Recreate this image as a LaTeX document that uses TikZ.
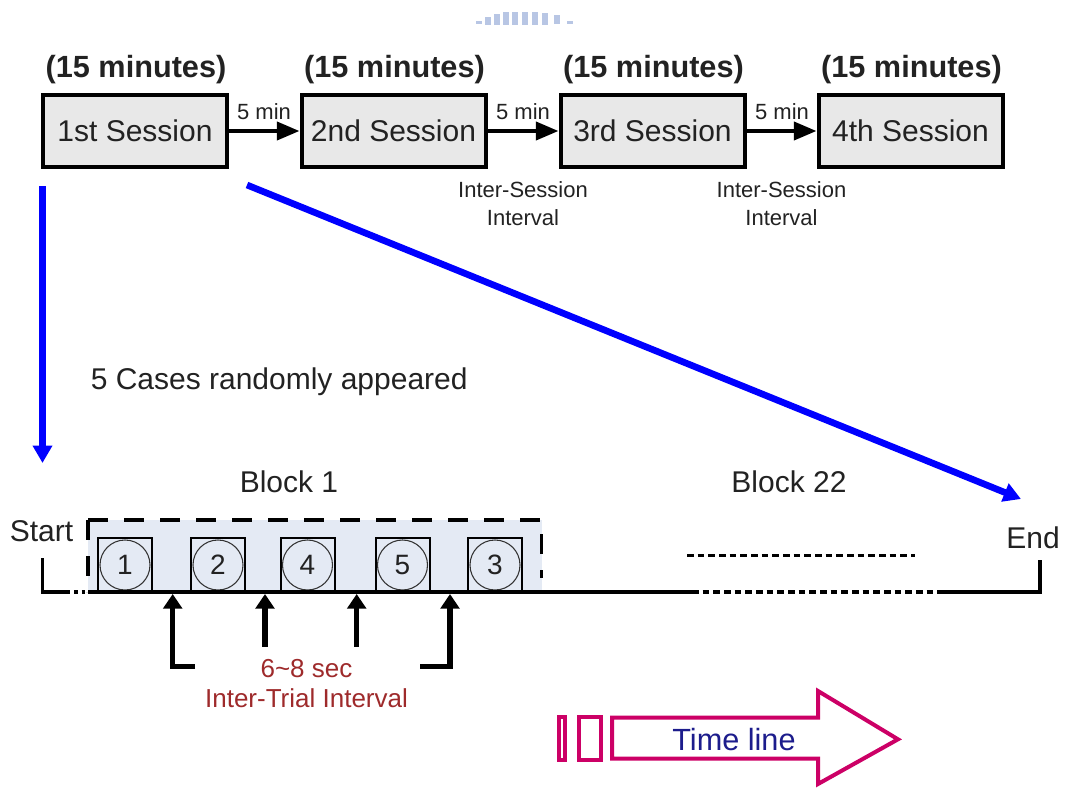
\documentclass[tikz,border=0pt]{standalone}
\usepackage{fontspec}
\setmainfont{Liberation Sans}
\usetikzlibrary{arrows.meta,calc}
\definecolor{sessfill}{HTML}{E8E8E8}
\definecolor{txt}{HTML}{222222}
\definecolor{blockfill}{HTML}{E4EAF4}
\definecolor{itired}{HTML}{9E2A2B}
\definecolor{tlmag}{HTML}{CC0066}
\definecolor{tlnavy}{HTML}{1C1C8C}
\definecolor{wmblue}{HTML}{B8C6E4}
\begin{document}
\begin{tikzpicture}[x=0.75pt,y=-0.75pt,
  session/.style={draw=black, line width=3pt, fill=sessfill, minimum width=138pt,
    minimum height=54pt, inner sep=0pt, text=txt, font=\fontsize{22.5}{27}\selectfont},
  duration/.style={anchor=base, text=txt, inner sep=0pt,
    font=\fontsize{23}{27}\selectfont\bfseries},
  gaplabel/.style={anchor=base, text=txt, inner sep=0pt, font=\fontsize{16.5}{20}\selectfont},
  bigtext/.style={anchor=base, text=txt, inner sep=0pt, font=\fontsize{22.5}{27}\selectfont},
  itilabel/.style={anchor=base, text=itired, inner sep=0pt, font=\fontsize{19.5}{23}\selectfont},
  sessarrow/.style={line width=3pt, -{Triangle[length=17pt,width=13.5pt]}},
  flowarrow/.style={draw=blue, line width=5pt, -{Triangle[length=13pt,width=14pt]}},
  trialbox/.style={draw=black, line width=1.5pt, fill=blockfill, minimum size=40.5pt, inner sep=0pt},
  trialcirc/.style={draw=black!80, line width=0.8pt, circle, minimum size=37.5pt, inner sep=0pt,
    text=txt, font=\fontsize{21}{25}\selectfont},
  itiarrow/.style={line width=4pt, line join=miter, -{Triangle[length=11pt,width=14pt]}},
  axis/.style={line width=2.6pt},
  axisgap/.style={line width=2.6pt, dash pattern=on 5pt off 3pt},
  blockedge/.style={line width=2.6pt, dash pattern=on 15pt off 12pt},
  tlshape/.style={draw=tlmag, line width=3pt, fill=white, line join=miter}
]
\useasboundingbox (0,0) rectangle (1065,789);

% faint ring of ticks along the top edge
\foreach \xa/\ya/\yb in {479/21/24, 488/17/25, 497/14/25, 506/12/25, 515/12/25,
                         525/12/25, 535/12/25, 545/13/25, 557/15/24, 570/21/24}
  \fill[wmblue] (\xa-3,\ya) rectangle (\xa+3,\yb);

% ---- sessions ----
\node[session] (s1) at (135,131)   {1st Session};
\node[session] (s2) at (393.5,131) {2nd Session};
\node[session] (s3) at (652.5,131) {3rd Session};
\node[session] (s4) at (910.5,131) {4th Session};

\node[duration] (d1) at (136,77)   {(15 minutes)};
\node[duration] (d2) at (394.5,77) {(15 minutes)};
\node[duration] (d3) at (653.5,77) {(15 minutes)};
\node[duration] (d4) at (911.5,77) {(15 minutes)};

\draw[sessarrow] (s1.east) -- (s2.west);
\draw[sessarrow] (s2.east) -- (s3.west);
\draw[sessarrow] (s3.east) -- (s4.west);

\node[gaplabel] (g1) at (264,119) {5 min};
\node[gaplabel] (g2) at (523,119) {5 min};
\node[gaplabel] (g3) at (782,119) {5 min};

\node[gaplabel] (isi1a) at (523,197) {Inter-Session};
\node[gaplabel] (isi1b) at (523,225) {Interval};
\node[gaplabel] (isi2a) at (781.5,197) {Inter-Session};
\node[gaplabel] (isi2b) at (781.5,225) {Interval};

% ---- zoom into the first session ----
\coordinate (v0) at (42.5,186);
\coordinate (v1) at (42.5,463);
\coordinate (w0) at (247,185);
\coordinate (w1) at (1021,499);
\draw[flowarrow] (v0) -- (v1);
\draw[flowarrow] (w0) -- (w1);

\node[bigtext, anchor=base west] (cases) at (90.5,389) {5 Cases randomly appeared};

% ---- block time line ----
\node[bigtext] (blk1)  at (289,492) {Block 1};
\node[bigtext] (blk22) at (789,492) {Block 22};
\node[bigtext] (start) at (41.5,541) {Start};
\node[bigtext] (end)   at (1033,548) {End};

\fill[blockfill] (88,520) rectangle (541.7,592);
\draw[blockedge] (88,520) -- (88,592);
\draw[blockedge] (88,520) -- (541.7,520) -- (541.7,578);

\node[trialbox] (q1) at (125,565)   {};
\node[trialbox] (q2) at (218,565)   {};
\node[trialbox] (q3) at (307.5,565) {};
\node[trialbox] (q4) at (402.5,565) {};
\node[trialbox] (q5) at (495,565)   {};
\node[trialcirc] (c1) at (q1) {1};
\node[trialcirc] (c2) at (q2) {2};
\node[trialcirc] (c3) at (q3) {4};
\node[trialcirc] (c4) at (q4) {5};
\node[trialcirc] (c5) at (q5) {3};

\coordinate (t0) at (42.5,558);
\coordinate (t1) at (42.5,592);
\coordinate (t2) at (67,592);
\coordinate (t3) at (88,592);
\coordinate (t4) at (692,592);
\coordinate (t5) at (942,592);
\coordinate (t6) at (1040,592);
\coordinate (t7) at (1040,560);
\draw[axis, line join=miter] (t0) -- (t1) -- (t2);
\draw[axis, dash pattern=on 2.5pt off 3pt] (t2) -- (t3);
\draw[axis] (t3) -- (t4);
\draw[axisgap] (t4) -- (t5);
\draw[axis, line join=miter] (t5) -- (t6) -- (t7);
\coordinate (u0) at (687,555.5);
\coordinate (u1) at (915,555.5);
\draw[axisgap] (u0) -- (u1);

% inter-trial interval markers
\coordinate (f1) at (195,666.7);  \coordinate (k1) at (172.7,594);
\coordinate (f2) at (265,646.7);  \coordinate (k2) at (265,594);
\coordinate (f3) at (356.7,646.7);\coordinate (k3) at (356.7,594);
\coordinate (f4) at (420,666.7);  \coordinate (k4) at (450,594);
\draw[itiarrow] (f1) -| (k1);
\draw[itiarrow] (f2) -- (k2);
\draw[itiarrow] (f3) -- (k3);
\draw[itiarrow] (f4) -| (k4);

\node[itilabel] (iti1) at (306.5,677) {6\textasciitilde 8 sec};
\node[itilabel] (iti2) at (306.5,707) {Inter-Trial Interval};

% ---- time line arrow ----
\draw[tlshape] (559,717) rectangle (565,759.7);
\draw[tlshape] (578.7,717) rectangle (601.3,759.7);
\draw[tlshape] (612,717.7) -- (818,717.7) -- (818,691) -- (898,739.3)
  -- (818,784) -- (818,758.7) -- (612,758.7) -- cycle;
\node[anchor=base, inner sep=0pt, text=tlnavy, font=\fontsize{23}{27}\selectfont]
  (tl) at (734,750) {Time line};
\end{tikzpicture}
\end{document}
